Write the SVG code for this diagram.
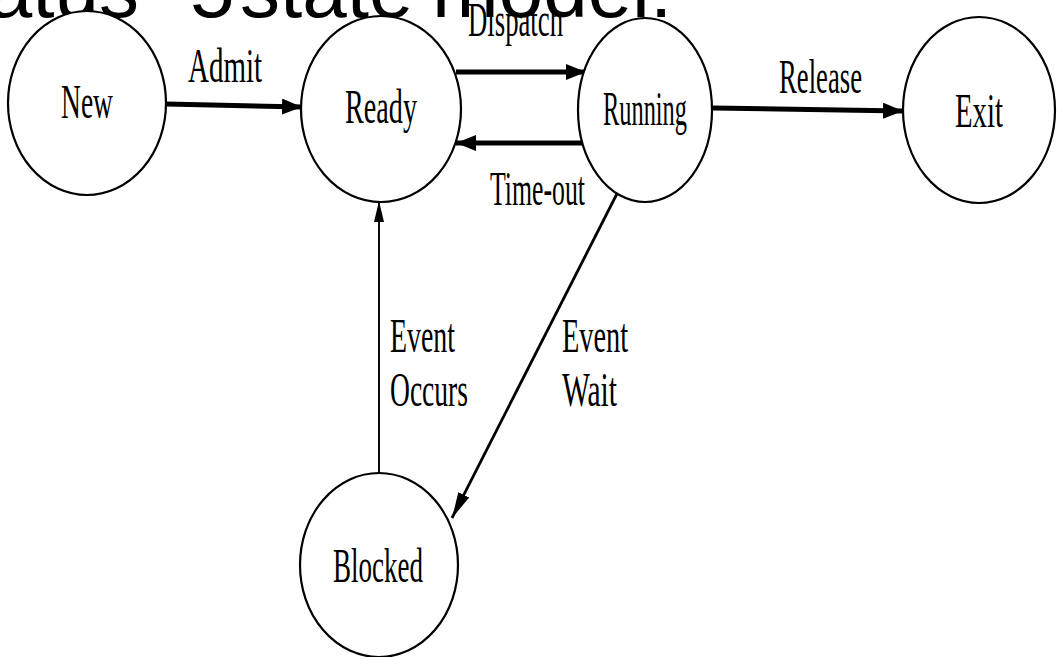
<svg xmlns="http://www.w3.org/2000/svg" width="1057" height="657" viewBox="0 0 1057 657">
  <style>
    .state { fill: #ffffff; stroke: #000000; stroke-width: 2.2; }
    .lbl { font-family: "Liberation Serif", "DejaVu Serif", serif; font-size: 48px; fill: #000000; }
    .title { font-family: "Liberation Sans", Arial, sans-serif; font-size: 80px; fill: #000000; }
    .thick { stroke: #000000; stroke-width: 5; fill: none; }
    .mid { stroke: #000000; stroke-width: 2.8; fill: none; }
    .thin { stroke: #000000; stroke-width: 1.9; fill: none; }
  </style>
  <defs>
    <marker id="head" markerUnits="userSpaceOnUse" markerWidth="20" markerHeight="16" refX="20" refY="8" orient="auto">
      <path d="M0,0 L20,8 L0,16 z" fill="#000000"/>
    </marker>
    <marker id="headMid" markerUnits="userSpaceOnUse" markerWidth="26" markerHeight="12" refX="26" refY="6" orient="auto">
      <path d="M0,0 L26,6 L0,12 z" fill="#000000"/>
    </marker>
    <marker id="headThin" markerUnits="userSpaceOnUse" markerWidth="21" markerHeight="10" refX="21" refY="5" orient="auto">
      <path d="M0,0 L21,5 L0,10 z" fill="#000000"/>
    </marker>
  </defs>

  <rect x="0" y="0" width="1057" height="657" fill="#ffffff"/>

  <!-- heading, running off the top edge -->
  <text class="title" y="17"><tspan x="-399">Process Status -</tspan><tspan x="190">5</tspan><tspan x="240">state</tspan><tspan x="432">model:</tspan></text>

  <!-- transitions -->
  <g id="connectors">
    <line class="thick" x1="166" y1="104" x2="302" y2="107" marker-end="url(#head)"/>
    <line class="thick" x1="456" y1="72" x2="586" y2="72" marker-end="url(#head)"/>
    <line class="thick" x1="582" y1="143" x2="456" y2="143" marker-end="url(#head)"/>
    <line class="thick" x1="713" y1="108" x2="903" y2="111" marker-end="url(#head)"/>
    <line class="thin" x1="379" y1="472" x2="379" y2="201" marker-end="url(#headThin)"/>
    <line class="mid" x1="626" y1="176" x2="452" y2="518" marker-end="url(#headMid)"/>
    <text class="lbl" x="188" y="82" textLength="74" lengthAdjust="spacingAndGlyphs">Admit</text>
    <text class="lbl" x="468" y="36" textLength="95" lengthAdjust="spacingAndGlyphs">Dispatch</text>
    <text class="lbl" x="490" y="205" textLength="95" lengthAdjust="spacingAndGlyphs">Time-out</text>
    <text class="lbl" x="779" y="93" textLength="83" lengthAdjust="spacingAndGlyphs">Release</text>
    <text class="lbl" x="390" y="352" textLength="65" lengthAdjust="spacingAndGlyphs">Event</text>
    <text class="lbl" x="390" y="406" textLength="78" lengthAdjust="spacingAndGlyphs">Occurs</text>
    <text class="lbl" x="562" y="352" textLength="66" lengthAdjust="spacingAndGlyphs">Event</text>
    <text class="lbl" x="562" y="406" textLength="55" lengthAdjust="spacingAndGlyphs">Wait</text>
  </g>

  <!-- states -->
  <g id="new">
    <ellipse class="state" cx="87" cy="103" rx="79" ry="92"/>
    <text class="lbl" x="61" y="118" textLength="52" lengthAdjust="spacingAndGlyphs">New</text>
  </g>
  <g id="ready">
    <ellipse class="state" cx="381" cy="109" rx="80" ry="93"/>
    <text class="lbl" x="345" y="123" textLength="72" lengthAdjust="spacingAndGlyphs">Ready</text>
  </g>
  <g id="running">
    <ellipse class="state" cx="645" cy="110" rx="67" ry="92"/>
    <text class="lbl" x="603" y="125" textLength="84" lengthAdjust="spacingAndGlyphs">Running</text>
  </g>
  <g id="exit">
    <ellipse class="state" cx="979" cy="110" rx="76" ry="93"/>
    <text class="lbl" x="955" y="127" textLength="48" lengthAdjust="spacingAndGlyphs">Exit</text>
  </g>
  <g id="blocked">
    <ellipse class="state" cx="379" cy="565" rx="79" ry="92"/>
    <text class="lbl" x="333" y="582" textLength="90" lengthAdjust="spacingAndGlyphs">Blocked</text>
  </g>
</svg>
